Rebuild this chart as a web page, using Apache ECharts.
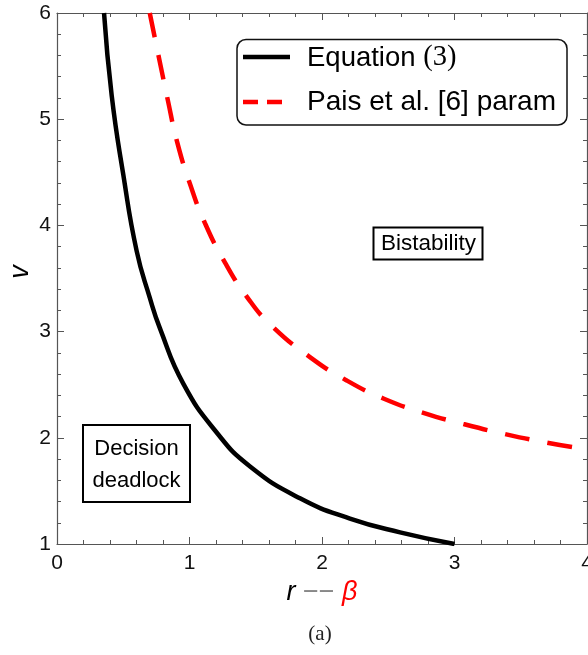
<!DOCTYPE html>
<html>
<head>
<meta charset="utf-8">
<script src="https://cdn.jsdelivr.net/npm/echarts@6/dist/echarts.min.js"></script>
<style>
  html, body { margin: 0; padding: 0; background: #fff; }
  #chart { width: 588px; height: 655px; }
</style>
</head>
<body>
<div id="chart"></div>
<script>
// Equation (3): boundary between decision deadlock and bistability (v against r)
const eqR = [0.355, 0.413, 0.5, 0.601, 0.70, 0.777, 0.953, 1.205, 1.457, 1.834, 2.211, 2.589, 3.0];
const eqV = [6.0, 5.22, 4.48, 3.76, 3.32, 3.03, 2.51, 2.05, 1.73, 1.43, 1.24, 1.11, 1.0];

// Pais et al. [6] parameterisation (v against beta)
const paisB = [0.70, 0.838, 0.908, 1.004, 1.117, 1.268, 1.432, 1.608, 1.909, 2.186, 2.463, 2.765, 3.066, 3.381, 3.696, 4.0];
const paisV = [6.0, 5.17, 4.78, 4.39, 4.02, 3.65, 3.33, 3.07, 2.76, 2.54, 2.37, 2.235, 2.13, 2.035, 1.955, 1.89];

// Axis ranges and tick labels
const xTicks = [0, 1, 2, 3, 4];
const yTicks = [1, 2, 3, 4, 5, 6];

const toPairs = (xs, ys) => xs.map((x, i) => [x, ys[i]]);

const chart = echarts.init(document.getElementById('chart'), null, { renderer: 'canvas' });

const frameColor = '#555';
const sansFont = '"Liberation Sans", Arial, sans-serif';
const serifFont = '"Liberation Serif", "Times New Roman", serif';

function frameAxis(extra) {
  return Object.assign({
    type: 'value',
    axisLine: { show: true, onZero: false, lineStyle: { color: frameColor, width: 1.2 } },
    axisTick: { show: true, inside: true, length: 7, lineStyle: { color: frameColor, width: 1 } },
    minorTick: { show: true, splitNumber: 5, length: 4, lineStyle: { color: frameColor, width: 1 } },
    splitLine: { show: false },
    axisLabel: { show: false }
  }, extra);
}

const option = {
  animation: false,
  backgroundColor: '#fff',
  grid: { left: 57, right: 1, top: 13, bottom: 111, containLabel: false, outerBoundsMode: 'none' },
  xAxis: [
    frameAxis({
      position: 'bottom', min: xTicks[0], max: xTicks[xTicks.length - 1], interval: 1,
      axisLabel: { show: true, color: '#111', fontSize: 21, fontFamily: sansFont, margin: 9 },
      name: '{r|r }{d|\u2212\u2212 }{b|β}',
      nameLocation: 'middle', nameGap: 35,
      nameTextStyle: {
        rich: {
          r: { fontSize: 27, fontStyle: 'italic', color: '#000', fontFamily: sansFont },
          d: { fontSize: 27, color: '#888', fontFamily: sansFont },
          b: { fontSize: 27, fontStyle: 'italic', color: '#ff0000', fontFamily: sansFont }
        }
      }
    }),
    frameAxis({ position: 'top', min: xTicks[0], max: xTicks[xTicks.length - 1], interval: 1 })
  ],
  yAxis: [
    frameAxis({
      position: 'left', min: yTicks[0], max: yTicks[yTicks.length - 1], interval: 1,
      axisLabel: { show: true, color: '#111', fontSize: 21, fontFamily: sansFont, margin: 6 }
    }),
    frameAxis({ position: 'right', min: yTicks[0], max: yTicks[yTicks.length - 1], interval: 1 })
  ],
  series: [
    {
      name: 'Equation (3)', type: 'line', data: toPairs(eqR, eqV),
      smooth: 0.5, showSymbol: false, clip: true,
      lineStyle: { color: '#000', width: 4.5 }, z: 3
    },
    {
      name: 'Pais et al. [6] param', type: 'line', data: toPairs(paisB, paisV),
      smooth: 0.5, showSymbol: false, clip: true,
      lineStyle: { color: '#ff0000', width: 4.5, type: [25, 18], cap: 'butt' }, z: 2
    }
  ],
  graphic: [
    // y axis title
    { type: 'text', x: 20, y: 272, rotation: Math.PI / 2, z: 11,
      style: { text: 'v', fontSize: 27, fontStyle: 'italic', fontFamily: sansFont, fill: '#000',
        align: 'center', verticalAlign: 'middle' } },

    // legend box
    { type: 'rect', shape: { x: 237, y: 39.5, width: 330, height: 85.5, r: 9 },
      style: { fill: '#fff', stroke: '#111', lineWidth: 1.5 }, z: 10 },
    { type: 'line', shape: { x1: 243, y1: 57, x2: 290, y2: 57 },
      style: { stroke: '#000', lineWidth: 4.5 }, z: 11 },
    { type: 'line', shape: { x1: 243, y1: 102, x2: 283, y2: 102 },
      style: { stroke: '#ff0000', lineWidth: 4.5, lineDash: [15, 9] }, z: 11 },
    { type: 'text', x: 307, y: 58, z: 11,
      style: { text: '{s|Equation }{t|(3)}', verticalAlign: 'middle', align: 'left',
        rich: {
          s: { fontSize: 27.5, fontFamily: sansFont, fill: '#000' },
          t: { fontSize: 28.5, fontFamily: serifFont, fill: '#000' }
        } } },
    { type: 'text', x: 307, y: 102, z: 11,
      style: { text: 'Pais et al. [6] param', fontSize: 28, fontFamily: sansFont, fill: '#000',
        verticalAlign: 'middle', align: 'left' } },

    // region annotations
    { type: 'rect', shape: { x: 373.5, y: 227.5, width: 109, height: 32 },
      style: { fill: '#fff', stroke: '#000', lineWidth: 2 }, z: 10 },
    { type: 'text', x: 428.5, y: 244, z: 11,
      style: { text: 'Bistability', fontSize: 22.5, fontFamily: sansFont, fill: '#000',
        align: 'center', verticalAlign: 'middle' } },
    { type: 'rect', shape: { x: 83, y: 425, width: 107, height: 77 },
      style: { fill: '#fff', stroke: '#000', lineWidth: 2 }, z: 10 },
    { type: 'text', x: 136.5, y: 465, z: 11,
      style: { text: 'Decision\ndeadlock', fontSize: 22, lineHeight: 32, fontFamily: sansFont, fill: '#000',
        align: 'center', verticalAlign: 'middle' } },

    // panel caption
    { type: 'text', x: 320, y: 634, z: 11,
      style: { text: '(a)', fontSize: 21, fontFamily: serifFont,
        fill: '#222', align: 'center', verticalAlign: 'middle' } }
  ]
};

chart.setOption(option);
</script>
</body>
</html>
